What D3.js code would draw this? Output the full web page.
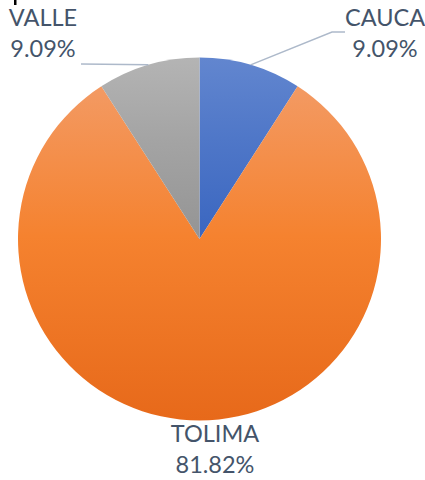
<!DOCTYPE html>
<html>
<head>
<meta charset="utf-8">
<script src="https://cdn.jsdelivr.net/npm/d3@7"></script>
<style>
  html, body { margin: 0; padding: 0; background: #fff; }
  svg { display: block; }
</style>
</head>
<body>
<svg id="chart" width="425" height="480"></svg>
<script>
// Datos
const categories = ['CAUCA', 'TOLIMA', 'VALLE'];
const values = [1, 9, 1];

const COLORS = {
  'CAUCA':  ['#6286CF', '#4F77C8', '#3A66C0'],
  'TOLIMA': ['#F39A63', '#F5822F', '#E7691A'],
  'VALLE':  ['#B4B4B4', '#A4A4A4', '#949494'],
};

const W = 425, H = 480;
const cx = 199.5, cy = 239, R = 181.5;

const svg = d3.select('#chart');
const defs = svg.append('defs');

categories.forEach((c, i) => {
  const gr = defs.append('linearGradient')
    .attr('id', 'grad' + i)
    .attr('x1', 0).attr('y1', 0).attr('x2', 0).attr('y2', 1);
  gr.append('stop').attr('offset', '0%').attr('stop-color', COLORS[c][0]);
  gr.append('stop').attr('offset', '45%').attr('stop-color', COLORS[c][1]);
  gr.append('stop').attr('offset', '100%').attr('stop-color', COLORS[c][2]);
});

const data = categories.map((c, i) => ({ name: c, value: values[i], idx: i }));
const total = d3.sum(values);

const pie = d3.pie().sort(null).value(d => d.value);
const arc = d3.arc().innerRadius(0).outerRadius(R);
const edge = d3.arc().innerRadius(R).outerRadius(R);

const g = svg.append('g').attr('transform', `translate(${cx},${cy})`);

const arcs = pie(data);

g.selectAll('path.slice')
  .data(arcs)
  .join('path')
  .attr('class', 'slice')
  .attr('d', arc)
  .attr('fill', d => `url(#grad${d.data.idx})`);

// Etiquetas
const fmt = v => (v / total * 100).toFixed(2) + '%';
const LABELS = {
  'CAUCA':  { x: 385, y: 26, anchor: 'middle', line: [[332, 32], [345, 32]] },
  'TOLIMA': { x: 215, y: 442, anchor: 'middle', line: null },
  'VALLE':  { x: 43,  y: 26, anchor: 'middle', line: [[81, 64]] },
};

arcs.forEach(d => {
  const L = LABELS[d.data.name];
  if (L.line) {
    const p = edge.centroid(d);
    const pts = [[cx + p[0], cy + p[1]], ...L.line];
    svg.append('path')
      .attr('d', d3.line()(pts))
      .attr('fill', 'none')
      .attr('stroke', '#ADB9CA')
      .attr('stroke-width', 1.5);
  }
  const t = svg.append('text')
    .attr('x', L.x).attr('y', L.y)
    .attr('text-anchor', L.anchor)
    .style('font-family', 'Lato, "Open Sans", sans-serif')
    .style('font-size', '23.5px')
    .style('fill', '#44546A');
  t.append('tspan').attr('x', L.x).text(d.data.name);
  t.append('tspan').attr('x', L.x).attr('dy', 31).text(fmt(d.data.value));
});

// trazo recortado arriba a la izquierda
svg.append('rect').attr('x', 14).attr('y', 0).attr('width', 2.5).attr('height', 5).attr('fill', '#000');
</script>
</body>
</html>
